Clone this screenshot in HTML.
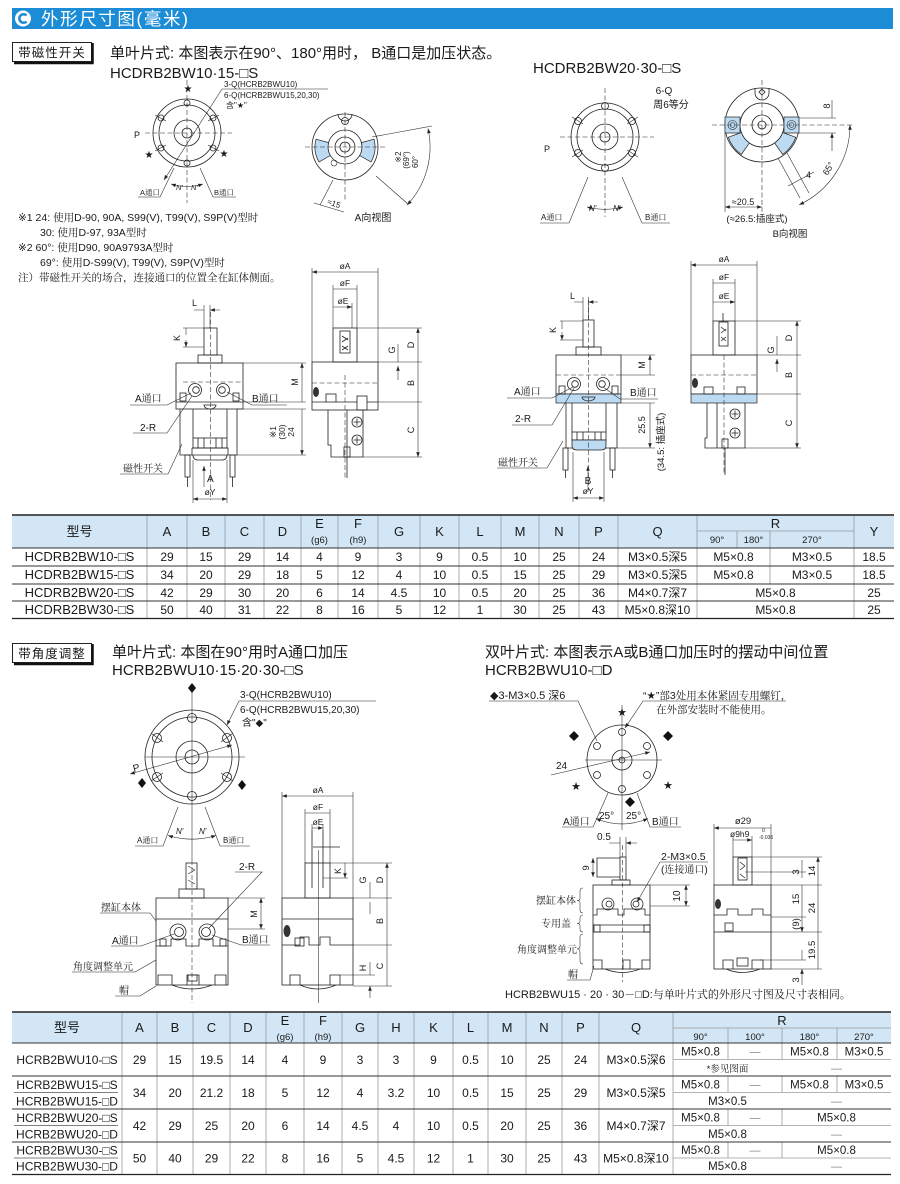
<!DOCTYPE html>
<html><head><meta charset="utf-8">
<style>
html,body{margin:0;padding:0;background:#fff}
svg{display:block}
.s{fill:none;stroke:#222;stroke-width:.8}
.t{stroke-width:.55}
.d{stroke-dasharray:5 2.5}
.g{fill:none;stroke:#9a9a9a;stroke-width:.8}
.k{fill:none;stroke:#333;stroke-width:.9}
.bl{fill:#bcdaf2;stroke:#222;stroke-width:.7}
text{font-family:"Liberation Sans","DejaVu Sans","Noto Sans CJK SC",sans-serif;fill:#1a1a1a}
.sf{font-family:"Liberation Sans","DejaVu Sans","Noto Serif CJK SC",serif}
.cj{font-family:"Liberation Sans","DejaVu Sans","Noto Sans CJK SC",sans-serif}
</style></head>
<body>
<svg width="900" height="1184" viewBox="0 0 900 1184" xmlns="http://www.w3.org/2000/svg">
<defs>
<marker id="ar" viewBox="0 0 8 6" refX="8" refY="3" markerWidth="5" markerHeight="3.6" markerUnits="userSpaceOnUse" orient="auto-start-reverse"><path d="M0 0L8 3L0 6z" fill="#222"/></marker>
</defs>

<!-- ===== Header ===== -->
<rect x="12" y="8" width="881" height="21" fill="#1d8cd6"/>
<circle cx="23" cy="18.5" r="8" fill="#fff"/>
<path d="M26.6 15.4A4.3 4.3 0 1 0 26.6 21.6" fill="none" stroke="#1d8cd6" stroke-width="2.5"/>
<text x="41" y="25" font-size="17.5" letter-spacing="1.6" style="fill:#fff">外形尺寸图(毫米)</text>

<!-- section label 1 -->
<rect x="12.5" y="42.5" width="79" height="19" fill="#fff" stroke="#222" stroke-width="1"/>
<path d="M92.5 43V63H14" stroke="#111" stroke-width="2.5" fill="none"/>
<text x="52" y="57" font-size="12.5" text-anchor="middle" letter-spacing="1">带磁性开关</text>

<text x="110" y="58" font-size="15">单叶片式: 本图表示在90°、180°用时， B通口是加压状态。</text>
<text x="110" y="78" font-size="15">HCDRB2BW10·15-□S</text>
<text x="533" y="73" font-size="15">HCDRB2BW20·30-□S</text>

<!-- ===== Drawing 1: front circle ===== -->
<g class="s">
<circle cx="187" cy="133" r="34"/><circle cx="187" cy="133" r="28"/><circle cx="187" cy="133" r="13"/><circle cx="187" cy="133" r="5"/>
<circle cx="187" cy="103" r="3"/><circle cx="187" cy="163" r="3"/><circle cx="161" cy="118" r="3"/><circle cx="213" cy="118" r="3"/><circle cx="161" cy="148" r="3"/><circle cx="213" cy="148" r="3"/>
</g>
<path class="s t" d="M166 121L155 115M208 121L219 115M166 145L155 151M208 145L219 151"/>
<path class="s t d" d="M145 133H232M187 80V203"/>
<path class="s t" d="M328 89H222L164 180" marker-end="url(#ar)"/>
<text x="224" y="87" font-size="8">3-Q(HCRB2BWU10)</text>
<text x="224" y="98" font-size="8">6-Q(HCRB2BWU15,20,30)</text>
<text x="226" y="108" font-size="8">含"★"</text>
<text x="188" y="92" font-size="10" text-anchor="middle">★</text>
<text x="149" y="158" font-size="10" text-anchor="middle">★</text>
<text x="224" y="157" font-size="10" text-anchor="middle">★</text>
<text x="134" y="138" font-size="9">P</text>
<path class="s t" d="M138 197H160L174 168M236 197H213L200 168"/>
<path class="s t" d="M171 184A54 54 0 0 0 203 184" marker-start="url(#ar)" marker-end="url(#ar)"/>
<text x="140" y="195" font-size="7.5" class="sf">A通口</text>
<text x="214" y="195" font-size="7.5" class="sf">B通口</text>
<text x="176" y="190" font-size="7.5" font-style="italic">N'</text>
<text x="191" y="190" font-size="7.5" font-style="italic">N'</text>

<!-- ===== Drawing 2: A view ===== -->
<g class="s">
<circle cx="345" cy="147" r="33"/><circle cx="345" cy="147" r="17"/><circle cx="345" cy="147" r="10"/><circle cx="345" cy="147" r="5"/>
<circle cx="345" cy="121" r="3.5"/><path d="M338 114A7 7 0 0 0 352 114"/>
</g>
<path class="bl" d="M330.3 155.5L319 162A30 30 0 0 1 316 139.2L328.6 142.6A17 17 0 0 0 330.3 155.5Z"/>
<path class="bl" d="M361.4 142.6L374 139.2A30 30 0 0 1 371 162L359.7 155.5A17 17 0 0 0 361.4 142.6Z"/>
<circle cx="334" cy="163" r="3" class="s t"/>
<path class="s t d" d="M305 147H385M345 112V200"/>
<path class="s t" d="M333 180L320 205M376 176L408 204M372 137L432 126"/>
<path class="s t" d="M314 203L344 212"/>
<text transform="translate(333,206) rotate(20)" font-size="8" text-anchor="middle">≈15</text>
<path class="s t" d="M428 128.5A85 85 0 0 1 407.2 205" marker-start="url(#ar)" marker-end="url(#ar)"/>
<text transform="translate(401,157) rotate(-90)" font-size="8" text-anchor="middle">※2</text>
<text transform="translate(409,160) rotate(-90)" font-size="8" text-anchor="middle">(69°)</text>
<text transform="translate(418,162) rotate(-90)" font-size="8" text-anchor="middle">60°</text>
<text x="373" y="221" font-size="10" text-anchor="middle">A向视图</text>

<!-- ===== Drawing 3: front circle 20/30 ===== -->
<g class="s">
<circle cx="605" cy="137" r="34"/><circle cx="605" cy="137" r="28"/><circle cx="605" cy="137" r="13"/><circle cx="605" cy="137" r="5"/>
<circle cx="605" cy="106" r="3.5"/><circle cx="605" cy="168" r="3.5"/><circle cx="578" cy="121" r="3.5"/><circle cx="632" cy="121" r="3.5"/><circle cx="578" cy="153" r="3.5"/><circle cx="632" cy="153" r="3.5"/>
</g>
<path class="s t" d="M583 124L572 117M627 124L638 117M583 150L572 157M627 150L638 157"/>
<path class="s t d" d="M560 137H654M605 88V217"/>
<text x="664" y="94" font-size="10" text-anchor="middle">6-Q</text>
<text x="671" y="108" font-size="10" text-anchor="middle">周6等分</text>
<text x="544" y="152" font-size="9">P</text>
<path class="s t" d="M540 223H569L588 177M670 223H642L622 177"/>
<path class="s t" d="M587 207A72 72 0 0 0 623 207" marker-start="url(#ar)" marker-end="url(#ar)"/>
<text x="541" y="220" font-size="8" class="sf">A通口</text>
<text x="645" y="220" font-size="8" class="sf">B通口</text>
<text x="589" y="211" font-size="8" font-style="italic">N'</text>
<text x="613" y="211" font-size="8" font-style="italic">N'</text>

<!-- ===== Drawing 4: B view ===== -->
<g class="s">
<circle cx="762" cy="125" r="37"/><circle cx="762" cy="125" r="22"/><circle cx="762" cy="125" r="10"/><circle cx="762" cy="125" r="4"/>
<path d="M755 88V93A7 7 0 0 0 769 93V88"/><path d="M762 89L765 92L762 95L759 92Z"/>
</g>
<rect x="725" y="117" width="15" height="16" class="bl"/><circle cx="732.5" cy="125" r="4.5" class="s t"/><circle cx="732.5" cy="125" r="2.3" class="s t"/>
<rect x="784" y="117" width="15" height="16" class="bl"/><circle cx="791.5" cy="125" r="4.5" class="s t"/><circle cx="791.5" cy="125" r="2.3" class="s t"/>
<path class="bl" d="M741.3 132.5L728.2 137.3A36 36 0 0 0 741.3 154.5L749.4 143A22 22 0 0 1 741.3 132.5Z"/>
<path class="bl" d="M782.7 132.5L795.8 137.3A36 36 0 0 1 782.7 154.5L774.6 143A22 22 0 0 0 782.7 132.5Z"/>
<path class="s t d" d="M712 125H852M762 80V212"/>
<path class="s t" d="M799 118H836M799 133H836M725 133V212"/>
<path class="s t" d="M832 100V118M832 151V133" marker-end="url(#ar)"/>
<text transform="translate(830,106) rotate(-90)" font-size="9" text-anchor="middle">8</text>
<path class="s t" d="M778 158L800 198M787 153L809 193M788 186L814 172"/>
<text x="806" y="178" font-size="9">4</text>
<path class="s t" d="M850 125A88 88 0 0 1 799.2 204.8" marker-start="url(#ar)" marker-end="url(#ar)"/>
<text transform="translate(831,170) rotate(-60)" font-size="9" text-anchor="middle">65°</text>
<path class="s t" d="M725 207H762" marker-start="url(#ar)" marker-end="url(#ar)"/>
<text x="743" y="205" font-size="9" text-anchor="middle">≈20.5</text>
<text x="757" y="222" font-size="9.5" text-anchor="middle">(≈26.5:插座式)</text>
<text x="790" y="237" font-size="9.5" text-anchor="middle">B向视图</text>

<!-- ===== Notes ===== -->
<g font-size="10.5" class="sf">
<text x="18" y="221" class="sf">※1  24: 使用D-90, 90A, S99(V), T99(V), S9P(V)型时</text>
<text x="40" y="236" class="sf">30: 使用D-97, 93A型时</text>
<text x="18" y="251" class="sf">※2  60°: 使用D90, 90A9793A型时</text>
<text x="40" y="266" class="sf">69°: 使用D-S99(V), T99(V), S9P(V)型时</text>
<text x="18" y="281" class="sf">注）带磁性开关的场合，连接通口的位置全在缸体侧面。</text>
</g>

<!-- ===== Drawing 5: side view left ===== -->
<g class="s">
<rect x="176" y="363" width="67" height="46"/>
<path d="M176 402H243"/>
<rect x="198" y="355" width="24" height="8"/>
<rect x="204" y="328" width="13" height="27"/>
<circle cx="195" cy="390" r="6.5"/><circle cx="196" cy="390" r="3.3"/>
<circle cx="223" cy="390" r="6.5"/><circle cx="222" cy="390" r="3.3"/>
<rect x="180" y="393" width="6" height="8"/><rect x="233" y="393" width="6" height="8"/>
<path d="M204 405H216A6 4 0 0 1 204 405Z"/>
<path d="M180 409V455H237V409M193 409V438M227 409V438"/>
<rect x="193" y="438" width="34" height="10"/>
<path d="M198 438V448M204 438V448M216 438V448M222 438V448"/>
<path d="M192 448H228V455M192 448V455M193 455Q193 460 198 460H222Q227 460 227 455"/>
<rect x="185" y="455" width="5" height="22"/><rect x="230" y="455" width="5" height="22"/>
<path d="M187.5 477V487M232.5 477V487"/>
</g>
<path class="s t d" d="M183 382H243M210.5 312V500"/>
<path class="s t" d="M183 328H204M183 347H204M204 305V328M210 305V328"/>
<path class="s t" d="M186 335V328M186 340V347" marker-end="url(#ar)"/>
<text transform="translate(180,338) rotate(-90)" font-size="9" text-anchor="middle">K</text>
<path class="s t" d="M194 310H204M220 310H210" marker-end="url(#ar)"/>
<text x="192" y="306" font-size="9">L</text>
<path class="s t" d="M204 487V466" marker-end="url(#ar)"/>
<text x="207" y="482" font-size="10">A</text>
<path class="s t" d="M193 460V503M227 460V503"/>
<path class="s t" d="M193 499H227" marker-start="url(#ar)" marker-end="url(#ar)"/>
<text x="210" y="495" font-size="8.5" text-anchor="middle">øY</text>
<path class="s t" d="M243 363H306M243 402H306M237 409H306M237 455H306"/>
<path class="s t" d="M302 363V402M302 409V455" marker-start="url(#ar)" marker-end="url(#ar)"/>
<text transform="translate(298,382) rotate(-90)" font-size="9" text-anchor="middle">M</text>
<text transform="translate(276,432) rotate(-90)" font-size="8.5" text-anchor="middle">※1</text>
<text transform="translate(285,432) rotate(-90)" font-size="8.5" text-anchor="middle">(30)</text>
<text transform="translate(294,432) rotate(-90)" font-size="8.5" text-anchor="middle">24</text>
<path class="s t" d="M130 405H167L191 393M287 405H252L227 392M133 433H167L192 396M120 474H168L182 444"/>
<text x="135" y="402" font-size="10" class="sf">A通口</text>
<text x="252" y="402" font-size="10" class="sf">B通口</text>
<text x="140" y="431" font-size="10">2-R</text>
<text x="123" y="472" font-size="10" class="sf">磁性开关</text>

<!-- ===== Drawing 6: side view right ===== -->
<g class="s">
<rect x="312" y="362" width="66" height="48"/>
<path d="M312 402H326M336 402H357M367 402H378"/>
<rect x="326" y="394" width="10" height="8"/><rect x="357" y="396" width="10" height="14"/>
<rect x="333" y="328" width="24" height="34"/>
<rect x="340" y="331" width="10" height="22"/>
<path d="M342 336L348 340M342 342L348 338M342 346L348 350M342 350L348 346"/>
<path d="M328 410V445H331V457H363V410M347 410V457"/>
<circle cx="357" cy="422" r="5"/><path d="M353.5 422H360.5M357 418.5V425.5"/>
<circle cx="357" cy="440" r="5"/><path d="M353.5 440H360.5M357 436.5V443.5"/>
<rect x="344" y="447" width="6" height="10"/>
<path d="M347 457V478"/>
</g>
<ellipse cx="316" cy="392" rx="3" ry="5" fill="#333"/>
<path class="s t d" d="M312 383H378M345 375V480"/>
<path class="s t" d="M312 268V362M378 268V362M333 285V328M357 285V328M352 303V328"/>
<path class="s t" d="M312 272H378M333 289H357M333 307H352" marker-start="url(#ar)" marker-end="url(#ar)"/>
<text x="345" y="269" font-size="8.5" text-anchor="middle">øA</text>
<text x="345" y="286" font-size="8.5" text-anchor="middle">øF</text>
<text x="343" y="304" font-size="8.5" text-anchor="middle">øE</text>
<path class="s t" d="M357 328H422M378 362H422M378 402H422M363 457H422"/>
<path class="s t" d="M418 328V362M418 362V402M418 402V457" marker-start="url(#ar)" marker-end="url(#ar)"/>
<path class="s t" d="M398 344V362M398 380V366" marker-end="url(#ar)"/>
<text transform="translate(395,350) rotate(-90)" font-size="9" text-anchor="middle">G</text>
<text transform="translate(414,345) rotate(-90)" font-size="9" text-anchor="middle">D</text>
<text transform="translate(414,383) rotate(-90)" font-size="9" text-anchor="middle">B</text>
<text transform="translate(414,430) rotate(-90)" font-size="9" text-anchor="middle">C</text>

<!-- ===== Drawing 7: side view left 20/30 ===== -->
<g class="s">
<rect x="556" y="355" width="65" height="39"/>
<rect x="556" y="394" width="65" height="9" class="bl"/>
<rect x="576" y="347" width="25" height="8"/>
<rect x="583" y="320" width="11" height="27"/>
<circle cx="574" cy="384" r="6.5"/><circle cx="575" cy="384" r="3.3"/>
<circle cx="603" cy="384" r="6.5"/><circle cx="602" cy="384" r="3.3"/>
<rect x="559" y="386" width="6" height="8"/><rect x="612" y="386" width="6" height="8"/>
<path d="M582 397H595A6.5 4 0 0 1 582 397Z"/>
<path d="M566 403V448H617V403M572 403V432M606 403V432"/>
<rect x="572" y="432" width="34" height="8"/>
<path d="M577 432V440M583 432V440M595 432V440M601 432V440"/>
<path d="M572 440H606V446Q606 450 601 450H577Q572 450 572 446Z" fill="#bcdaf2"/>
<rect x="563" y="448" width="5" height="22"/><rect x="610" y="448" width="5" height="22"/>
<path d="M565.5 470V478M612.5 470V478"/>
</g>
<path class="s t d" d="M556 375H621M588.5 300V490"/>
<path class="s t" d="M560 321H583M560 340H583M583 297V320M588.5 297V320"/>
<path class="s t" d="M562 329V321M562 332V340" marker-end="url(#ar)"/>
<text transform="translate(556,330) rotate(-90)" font-size="9" text-anchor="middle">K</text>
<path class="s t" d="M574 302H583M598 302H588.5" marker-end="url(#ar)"/>
<text x="570" y="299" font-size="9">L</text>
<path class="s t" d="M588 492V466" marker-end="url(#ar)"/>
<text x="588" y="484" font-size="10" text-anchor="middle">B</text>
<path class="s t" d="M573 452V502M604 452V502"/>
<path class="s t" d="M573 498H604" marker-start="url(#ar)" marker-end="url(#ar)"/>
<text x="588" y="494" font-size="8.5" text-anchor="middle">øY</text>
<path class="s t" d="M621 355H655M621 375H655M621 403H655M617 448H655"/>
<path class="s t" d="M650 355V375M650 403V448" marker-start="url(#ar)" marker-end="url(#ar)"/>
<text transform="translate(645,365) rotate(-90)" font-size="9" text-anchor="middle">M</text>
<text transform="translate(645,425) rotate(-90)" font-size="9" text-anchor="middle">25.5</text>
<text transform="translate(664,442) rotate(-90)" font-size="9.5" text-anchor="middle">(34.5: 插座式)</text>
<path class="s t" d="M507 398H552L573 387M658 399H620L603 387M512 425H552L574 388M497 468H547L563 441"/>
<text x="514" y="395" font-size="10" class="sf">A通口</text>
<text x="630" y="396" font-size="10" class="sf">B通口</text>
<text x="515" y="422" font-size="10">2-R</text>
<text x="498" y="466" font-size="10" class="sf">磁性开关</text>

<!-- ===== Drawing 8: side view right 20/30 ===== -->
<g class="s">
<rect x="691" y="355" width="66" height="39"/>
<rect x="691" y="394" width="66" height="9" class="bl"/>
<rect x="704" y="387" width="9" height="7"/><rect x="737" y="387" width="8" height="7"/>
<rect x="713" y="321" width="22" height="34"/>
<rect x="719" y="322" width="9" height="24"/>
<path d="M721 327L726 331M721 333L726 329M721 337L726 341M721 341L726 337M723 313V322"/>
<path d="M707 403V438H705V448H745V403M717 403V448"/>
<circle cx="735" cy="414" r="5"/><path d="M731.5 414H738.5M735 410.5V417.5"/>
<circle cx="735" cy="433" r="5"/><path d="M731.5 433H738.5M735 429.5V436.5"/>
<rect x="722" y="439" width="6" height="9"/>
<path d="M725 448V475"/>
</g>
<ellipse cx="695" cy="383" rx="3" ry="5" fill="#333"/>
<path class="s t d" d="M691 375H757M724 355V475"/>
<path class="s t" d="M691 261V355M757 261V355M713 279V321M735 279V321"/>
<path class="s t" d="M691 265H757M713 283H735M713 302H735" marker-start="url(#ar)" marker-end="url(#ar)"/>
<text x="724" y="262" font-size="8.5" text-anchor="middle">øA</text>
<text x="724" y="280" font-size="8.5" text-anchor="middle">øF</text>
<text x="724" y="299" font-size="8.5" text-anchor="middle">øE</text>
<path class="s t" d="M735 321H801M757 355H801M757 394H801M745 448H801"/>
<path class="s t" d="M797 321V355M797 355V394M797 394V448" marker-start="url(#ar)" marker-end="url(#ar)"/>
<path class="s t" d="M777 336V355M777 372V359" marker-end="url(#ar)"/>
<text transform="translate(774,350) rotate(-90)" font-size="9" text-anchor="middle">G</text>
<text transform="translate(792,338) rotate(-90)" font-size="9" text-anchor="middle">D</text>
<text transform="translate(792,375) rotate(-90)" font-size="9" text-anchor="middle">B</text>
<text transform="translate(792,423) rotate(-90)" font-size="9" text-anchor="middle">C</text>

<!-- ===== Table 1 ===== -->
<rect x="12" y="515" width="882" height="33" fill="#d2e6f6"/>
<path d="M147 515V618M187 515V618M225 515V618M264 515V618M301 515V618M338 515V618M378 515V618M420 515V618M459 515V618M501 515V618M539 515V618M579 515V618M618 515V618M697 515V618M854 515V618M737 531V548M770 531V584M697 531H854" class="g"/>
<path d="M12 515H894" stroke="#222" stroke-width="1.5"/>
<path d="M12 548H894M12 566H894M12 584H894M12 601H894" class="k"/>
<path d="M12 618.5H894" stroke="#222" stroke-width="1.3"/>
<g text-anchor="middle" font-size="13">
<text y="536"><tspan x="79.5">型号</tspan><tspan x="167">A</tspan><tspan x="206">B</tspan><tspan x="244.5">C</tspan><tspan x="282.5">D</tspan><tspan x="399">G</tspan><tspan x="439.5">K</tspan><tspan x="480">L</tspan><tspan x="520">M</tspan><tspan x="559">N</tspan><tspan x="598.5">P</tspan><tspan x="657.5">Q</tspan><tspan x="874">Y</tspan></text>
<text y="528"><tspan x="319.5">E</tspan><tspan x="358">F</tspan><tspan x="775.5">R</tspan></text>
</g>
<g text-anchor="middle" font-size="9.5">
<text y="543"><tspan x="319.5">(g6)</tspan><tspan x="358">(h9)</tspan></text>
<text y="543"><tspan x="717">90°</tspan><tspan x="753.5">180°</tspan><tspan x="812">270°</tspan></text>
</g>
<g text-anchor="middle" font-size="12">
<text y="561"><tspan x="79.5" font-size="13">HCDRB2BW10-□S</tspan><tspan x="167">29</tspan><tspan x="206">15</tspan><tspan x="244.5">29</tspan><tspan x="282.5">14</tspan><tspan x="319.5">4</tspan><tspan x="358">9</tspan><tspan x="399">3</tspan><tspan x="439.5">9</tspan><tspan x="480">0.5</tspan><tspan x="520">10</tspan><tspan x="559">25</tspan><tspan x="598.5">24</tspan><tspan x="657.5">M3×0.5深5</tspan><tspan x="733.5">M5×0.8</tspan><tspan x="812">M3×0.5</tspan><tspan x="874">18.5</tspan></text>
<text y="579"><tspan x="79.5" font-size="13">HCDRB2BW15-□S</tspan><tspan x="167">34</tspan><tspan x="206">20</tspan><tspan x="244.5">29</tspan><tspan x="282.5">18</tspan><tspan x="319.5">5</tspan><tspan x="358">12</tspan><tspan x="399">4</tspan><tspan x="439.5">10</tspan><tspan x="480">0.5</tspan><tspan x="520">15</tspan><tspan x="559">25</tspan><tspan x="598.5">29</tspan><tspan x="657.5">M3×0.5深5</tspan><tspan x="733.5">M5×0.8</tspan><tspan x="812">M3×0.5</tspan><tspan x="874">18.5</tspan></text>
<text y="597"><tspan x="79.5" font-size="13">HCDRB2BW20-□S</tspan><tspan x="167">42</tspan><tspan x="206">29</tspan><tspan x="244.5">30</tspan><tspan x="282.5">20</tspan><tspan x="319.5">6</tspan><tspan x="358">14</tspan><tspan x="399">4.5</tspan><tspan x="439.5">10</tspan><tspan x="480">0.5</tspan><tspan x="520">20</tspan><tspan x="559">25</tspan><tspan x="598.5">36</tspan><tspan x="657.5">M4×0.7深7</tspan><tspan x="775.5">M5×0.8</tspan><tspan x="874">25</tspan></text>
<text y="614"><tspan x="79.5" font-size="13">HCDRB2BW30-□S</tspan><tspan x="167">50</tspan><tspan x="206">40</tspan><tspan x="244.5">31</tspan><tspan x="282.5">22</tspan><tspan x="319.5">8</tspan><tspan x="358">16</tspan><tspan x="399">5</tspan><tspan x="439.5">12</tspan><tspan x="480">1</tspan><tspan x="520">30</tspan><tspan x="559">25</tspan><tspan x="598.5">43</tspan><tspan x="657.5">M5×0.8深10</tspan><tspan x="775.5">M5×0.8</tspan><tspan x="874">25</tspan></text>
</g>

<!-- ===== Section 2 ===== -->
<rect x="12.5" y="643.5" width="79" height="19" fill="#fff" stroke="#222" stroke-width="1"/>
<path d="M92.5 644V664H14" stroke="#111" stroke-width="2.5" fill="none"/>
<text x="52" y="658" font-size="12.5" text-anchor="middle" letter-spacing="1">带角度调整</text>
<text x="112" y="657" font-size="15">单叶片式: 本图在90°用时A通口加压</text>
<text x="112" y="675" font-size="15">HCRB2BWU10·15·20·30-□S</text>
<text x="485" y="657" font-size="15">双叶片式: 本图表示A或B通口加压时的摆动中间位置</text>
<text x="485" y="675" font-size="15">HCRB2BWU10-□D</text>

<!-- ===== Drawing 9: circle 5 ===== -->
<g class="s">
<circle cx="192" cy="757" r="47"/><circle cx="192" cy="757" r="40"/><circle cx="192" cy="757" r="16"/><circle cx="192" cy="757" r="7"/>
<circle cx="192" cy="718" r="4.5"/><circle cx="192" cy="796" r="4.5"/><circle cx="157" cy="738" r="4.5"/><circle cx="227" cy="738" r="4.5"/><circle cx="157" cy="777" r="4.5"/><circle cx="227" cy="777" r="4.5"/>
</g>
<path class="s t" d="M163 742L151 733M221 742L233 733M163 773L151 781M221 773L233 781"/>
<path class="s t" d="M145 757H245M192 685V860"/>
<path class="s t d" d="M192 860V1003"/>
<path d="M192 683L196 688L192 693L188 688Z M142 778L146 783L142 788L138 783Z M242 780L246 785L242 790L238 785Z" fill="#111"/>
<path class="s t" d="M376 701H239L227 725" marker-end="url(#ar)"/>
<text x="240" y="698" font-size="10">3-Q(HCRB2BWU10)</text>
<text x="240" y="713" font-size="10">6-Q(HCRB2BWU15,20,30)</text>
<text x="242" y="726" font-size="10">含"◆"</text>
<path class="s t" d="M130 774L232 745" marker-start="url(#ar)" marker-end="url(#ar)"/>
<text transform="translate(134,772) rotate(-16)" font-size="10">P</text>
<path class="s t" d="M135 846H163L178 807M250 846H220L205 807"/>
<path class="s t" d="M168 835.5A82 82 0 0 0 216 835.5" marker-start="url(#ar)" marker-end="url(#ar)"/>
<text x="137" y="843" font-size="8" class="sf">A通口</text>
<text x="223" y="843" font-size="8" class="sf">B通口</text>
<text x="176" y="834" font-size="8" font-style="italic">N'</text>
<text x="199" y="834" font-size="8" font-style="italic">N'</text>

<!-- ===== Drawing 10: side view 5 ===== -->
<g class="s">
<rect x="156" y="898" width="72" height="87"/>
<path d="M156 919H228"/>
<rect x="179" y="889" width="25" height="9"/>
<rect x="186" y="863" width="11" height="26"/>
<circle cx="178" cy="932" r="8"/><circle cx="179" cy="932" r="4.5"/>
<circle cx="207" cy="932" r="8"/><circle cx="206" cy="932" r="4.5"/>
<path d="M156 946H171V939H186V946H199V939H213V946H228"/>
<rect x="160" y="939" width="6" height="7"/><rect x="220" y="939" width="6" height="7"/>
<path d="M158 985V975H172V985M187 985V975H199V985M215 985V975H226V985"/>
<rect x="188" y="975" width="9" height="6"/>
<path d="M172 985Q192 993 212 985"/>
</g>
<path class="s t" d="M188 866L195 870M188 874L195 870M188 880L195 884"/>
<path class="s t" d="M228 898H265M228 929H265"/>
<path class="s t" d="M261 898V929" marker-start="url(#ar)" marker-end="url(#ar)"/>
<text transform="translate(257,914) rotate(-90)" font-size="9" text-anchor="middle">M</text>
<path class="s t" d="M100 913H150L156 921M111 946H141L174 934M235 872H262L209 928M270 945H241L212 935M72 972H135L156 960M115 996H140L156 986"/>
<text x="101" y="911" font-size="10" class="sf">摆缸本体</text>
<text x="112" y="944" font-size="10" class="sf">A通口</text>
<text x="239" y="870" font-size="10">2-R</text>
<text x="242" y="943" font-size="10" class="sf">B通口</text>
<text x="73" y="970" font-size="10" class="sf">角度调整单元</text>
<text x="119" y="994" font-size="10" class="sf">帽</text>

<!-- ===== Drawing 11: side view 6 ===== -->
<g class="s">
<rect x="282" y="898" width="71" height="87"/>
<path d="M282 919H353"/>
<path d="M282 945H300V937H309V945H320V937H330V945H353"/>
<rect x="295" y="938" width="9" height="8"/>
<path d="M290 985V975H300V985M330 985V975H340V985"/>
<path d="M300 985Q318 993 336 985"/>
<rect x="305" y="863" width="25" height="35"/>
<path d="M312 830V888M323 830V888M313 847H340"/>
</g>
<ellipse cx="287" cy="931" rx="3.5" ry="6" fill="#333"/>
<path class="s t" d="M318.5 850V1003"/>
<path class="s t" d="M282 792V898M353 792V898M305 809V863M330 809V863M312 824V830M323 824V830"/>
<path class="s t" d="M282 796H353M305 813H330M312 828H323" marker-start="url(#ar)" marker-end="url(#ar)"/>
<text x="318" y="793" font-size="8.5" text-anchor="middle">øA</text>
<text x="318" y="810" font-size="8.5" text-anchor="middle">øF</text>
<text x="318" y="825" font-size="8.5" text-anchor="middle">øE</text>
<path class="s t" d="M330 863H392M353 898H392M353 945H392M353 986H392M323 878H348M340 975H375"/>
<path class="s t" d="M387 863V898M387 898V945M387 945V986M345 863V878" marker-start="url(#ar)" marker-end="url(#ar)"/>
<text transform="translate(341,871) rotate(-90)" font-size="9" text-anchor="middle">K</text>
<path class="s t" d="M370 882V898M370 914V902M370 962V975M370 998V986" marker-end="url(#ar)"/>
<text transform="translate(366,880) rotate(-90)" font-size="9" text-anchor="middle">G</text>
<text transform="translate(366,968) rotate(-90)" font-size="9" text-anchor="middle">H</text>
<text transform="translate(383,880) rotate(-90)" font-size="9" text-anchor="middle">D</text>
<text transform="translate(383,921) rotate(-90)" font-size="9" text-anchor="middle">B</text>
<text transform="translate(383,966) rotate(-90)" font-size="9" text-anchor="middle">C</text>

<!-- ===== Drawing 12: circle 7 ===== -->
<g class="s">
<circle cx="622" cy="760" r="35"/><circle cx="622" cy="760" r="10"/><circle cx="622" cy="760" r="3"/>
<circle cx="622" cy="732" r="3.5"/><circle cx="622" cy="789" r="3.5"/><circle cx="597" cy="746" r="3.5"/><circle cx="647" cy="746" r="3.5"/><circle cx="597" cy="775" r="3.5"/><circle cx="647" cy="775" r="3.5"/>
</g>
<path class="s t" d="M585 760H662M622 705V830"/>
<path class="s t" d="M551 775L650 752" marker-end="url(#ar)"/>
<text x="556" y="769" font-size="10">24</text>
<text x="622" y="716" font-size="11" text-anchor="middle">★</text>
<text x="576" y="790" font-size="11" text-anchor="middle">★</text>
<text x="668" y="789" font-size="11" text-anchor="middle">★</text>
<path d="M574 731L579 736L574 741L569 736Z M668 731L673 736L668 741L663 736Z M630 797L635 802L630 807L625 802Z" fill="#111"/>
<path class="s t" d="M489 701H578L597 741M786 701H643L625 728" marker-end="url(#ar)"/>
<text x="490" y="699" font-size="11">◆3-M3×0.5 深6</text>
<text x="643" y="699" font-size="10.5" class="sf">“★”部3处用本体紧固专用螺钉，</text>
<text x="656" y="713" font-size="10.5" class="sf">在外部安装时不能使用。</text>
<path class="s t" d="M562 827H593L608 793M681 827H650L637 793"/>
<path class="s t" d="M596 818.5A65 65 0 0 0 648 818.5" marker-start="url(#ar)" marker-end="url(#ar)"/>
<text x="563" y="825" font-size="10" class="sf">A通口</text>
<text x="652" y="825" font-size="10" class="sf">B通口</text>
<text x="599" y="819" font-size="10">25°</text>
<text x="626" y="819" font-size="10">25°</text>

<!-- ===== Drawing 13: side view 7 ===== -->
<g class="s">
<rect x="593" y="885" width="57" height="84"/>
<rect x="612" y="880" width="18" height="5"/>
<rect x="620" y="857" width="6" height="23"/>
<path d="M620 858H597V877H620"/>
<circle cx="608" cy="904" r="6"/><circle cx="609" cy="904" r="3"/>
<circle cx="637" cy="904" r="6"/><circle cx="636" cy="904" r="3"/>
<path d="M593 915H597V909H618V915H624V909H645V915H650"/>
<path d="M593 925H650M593 932H650"/>
<rect x="594" y="925" width="6" height="7"/><rect x="644" y="925" width="6" height="7"/>
<path d="M593 960H602V969M623 969V960H630V969M642 969V960H650"/>
<path d="M605 969Q622 976 640 969"/>
</g>
<path class="s t d" d="M622.5 845V982"/>
<path class="s t" d="M620 837V857M626 837V857"/>
<path class="s t" d="M609 843H620M637 843H626" marker-end="url(#ar)"/>
<text x="597" y="840" font-size="10">0.5</text>
<path class="s t" d="M593 858V877" marker-start="url(#ar)" marker-end="url(#ar)"/>
<text transform="translate(589,868) rotate(-90)" font-size="9.5" text-anchor="middle">9</text>
<path class="s t" d="M650 885H690M650 906H690"/>
<path class="s t" d="M686 885V906" marker-start="url(#ar)" marker-end="url(#ar)"/>
<text transform="translate(680,896) rotate(-90)" font-size="10" text-anchor="middle">10</text>
<path class="s t" d="M708 862H660L637 902" marker-end="url(#ar)"/>
<text x="661" y="860" font-size="10.5">2-M3×0.5</text>
<text x="661" y="873" font-size="10" class="sf">(连接通口)</text>
<path class="s t" d="M583 888Q580 888 580 891V898Q580 900.5 577 900.5Q580 900.5 580 903V910Q580 913 583 913M583 915Q580 915 580 918V921Q580 923.5 577 923.5Q580 923.5 580 926V929Q580 932 583 932M583 934Q580 934 580 937V946Q580 949 577 949Q580 949 580 952V961Q580 964 583 964"/>
<path class="s t" d="M567 980H590L594 966"/>
<text x="536" y="904" font-size="10" class="sf">摆缸本体</text>
<text x="541" y="927" font-size="10" class="sf">专用盖</text>
<text x="517" y="953" font-size="10" class="sf">角度调整单元</text>
<text x="568" y="978" font-size="10" class="sf">帽</text>

<!-- ===== Drawing 14: side view 8 ===== -->
<g class="s">
<rect x="714" y="885" width="57" height="84"/>
<rect x="733" y="857" width="19" height="28"/>
<rect x="738" y="858" width="9" height="22"/>
<path d="M740 862L745 866M740 870L745 866M740 874L745 878"/>
<path d="M714 915H727V909H738V915H752V909H763V915H771"/>
<path d="M714 932H771"/>
<rect x="725" y="923" width="8" height="8"/>
<path d="M723 969V960H733V969M752 969V960H763V969"/>
<rect x="737" y="958" width="11" height="8"/>
<path d="M726 969Q742 976 760 969"/>
</g>
<ellipse cx="718" cy="904" rx="3" ry="5" fill="#333"/>
<path class="s t" d="M714 824V885M771 824V885M733 836V857M752 836V857"/>
<path class="s t" d="M714 828H771M733 840H752" marker-start="url(#ar)" marker-end="url(#ar)"/>
<text x="743" y="824" font-size="9.5" text-anchor="middle">ø29</text>
<text x="730" y="837" font-size="8.5">ø9h9</text>
<text x="762" y="832" font-size="5">0</text>
<text x="759" y="839" font-size="5">-0.036</text>
<path class="s t" d="M752 857H822M745 872H806M771 885H822M771 917H806M771 932H822M760 960H806M771 969H822"/>
<path class="s t" d="M818 857V885M818 885V932M818 932V969M802 885V917M802 917V932" marker-start="url(#ar)" marker-end="url(#ar)"/>
<path class="s t" d="M802 860V872M802 878V872M802 950V960M802 985V969" marker-end="url(#ar)"/>
<text transform="translate(799,872) rotate(-90)" font-size="9.5" text-anchor="middle">3</text>
<text transform="translate(815,871) rotate(-90)" font-size="9.5" text-anchor="middle">14</text>
<text transform="translate(799,899) rotate(-90)" font-size="9.5" text-anchor="middle">15</text>
<text transform="translate(815,908) rotate(-90)" font-size="9.5" text-anchor="middle">24</text>
<text transform="translate(799,924) rotate(-90)" font-size="9.5" text-anchor="middle">(9)</text>
<text transform="translate(815,950) rotate(-90)" font-size="9.5" text-anchor="middle">19.5</text>
<text transform="translate(799,980) rotate(-90)" font-size="9.5" text-anchor="middle">3</text>

<text x="505" y="998" font-size="11" class="sf">HCRB2BWU15 · 20 · 30－□D:与单叶片式的外形尺寸图及尺寸表相同。</text>

<!-- ===== Table 2 ===== -->
<rect x="12" y="1012" width="879" height="31" fill="#d2e6f6"/>
<path class="g" d="M122 1012V1174M157 1012V1174M193 1012V1174M230 1012V1174M266 1012V1174M304 1012V1174M342 1012V1174M378 1012V1174M414 1012V1174M453 1012V1174M488 1012V1174M526 1012V1174M562 1012V1174M599 1012V1174M673 1012V1174M673 1028H891M728 1028V1043M782 1028V1043M837 1028V1043M673 1059.5H891M673 1092.5H891M673 1125.5H891M673 1158H891M728 1043V1059.5M782 1043V1059.5M837 1043V1059.5M728 1076V1092.5M782 1076V1092.5M837 1076V1092.5M728 1109V1125.5M782 1109V1125.5M728 1142V1158M782 1142V1158"/>
<path d="M14 1092.5H118M14 1125.5H118M14 1158H118" stroke="#555" stroke-width=".8"/>
<path d="M12 1012H891" stroke="#222" stroke-width="1.5"/>
<path d="M12 1043H891M12 1076H891M12 1109H891M12 1142H891" class="k"/>
<path d="M12 1174.5H891" stroke="#222" stroke-width="1.3"/>
<g text-anchor="middle" font-size="13">
<text y="1032"><tspan x="67">型号</tspan><tspan x="139.5">A</tspan><tspan x="175">B</tspan><tspan x="211.5">C</tspan><tspan x="248">D</tspan><tspan x="360">G</tspan><tspan x="396">H</tspan><tspan x="433.5">K</tspan><tspan x="470.5">L</tspan><tspan x="507">M</tspan><tspan x="544">N</tspan><tspan x="580.5">P</tspan><tspan x="636">Q</tspan></text>
<text y="1025"><tspan x="285">E</tspan><tspan x="323">F</tspan><tspan x="782">R</tspan></text>
</g>
<g text-anchor="middle" font-size="9.5">
<text y="1040"><tspan x="285">(g6)</tspan><tspan x="323">(h9)</tspan><tspan x="700.5">90°</tspan><tspan x="755">100°</tspan><tspan x="809.5">180°</tspan><tspan x="864">270°</tspan></text>
</g>
<g text-anchor="middle" font-size="12">
<text y="1064"><tspan x="67">HCRB2BWU10-□S</tspan><tspan x="139.5">29</tspan><tspan x="175">15</tspan><tspan x="211.5">19.5</tspan><tspan x="248">14</tspan><tspan x="285">4</tspan><tspan x="323">9</tspan><tspan x="360">3</tspan><tspan x="396">3</tspan><tspan x="433.5">9</tspan><tspan x="470.5">0.5</tspan><tspan x="507">10</tspan><tspan x="544">25</tspan><tspan x="580.5">24</tspan><tspan x="636">M3×0.5深6</tspan></text>
<text y="1097"><tspan x="139.5">34</tspan><tspan x="175">20</tspan><tspan x="211.5">21.2</tspan><tspan x="248">18</tspan><tspan x="285">5</tspan><tspan x="323">12</tspan><tspan x="360">4</tspan><tspan x="396">3.2</tspan><tspan x="433.5">10</tspan><tspan x="470.5">0.5</tspan><tspan x="507">15</tspan><tspan x="544">25</tspan><tspan x="580.5">29</tspan><tspan x="636">M3×0.5深5</tspan></text>
<text y="1130"><tspan x="139.5">42</tspan><tspan x="175">29</tspan><tspan x="211.5">25</tspan><tspan x="248">20</tspan><tspan x="285">6</tspan><tspan x="323">14</tspan><tspan x="360">4.5</tspan><tspan x="396">4</tspan><tspan x="433.5">10</tspan><tspan x="470.5">0.5</tspan><tspan x="507">20</tspan><tspan x="544">25</tspan><tspan x="580.5">36</tspan><tspan x="636">M4×0.7深7</tspan></text>
<text y="1162.5"><tspan x="139.5">50</tspan><tspan x="175">40</tspan><tspan x="211.5">29</tspan><tspan x="248">22</tspan><tspan x="285">8</tspan><tspan x="323">16</tspan><tspan x="360">5</tspan><tspan x="396">4.5</tspan><tspan x="433.5">12</tspan><tspan x="470.5">1</tspan><tspan x="507">30</tspan><tspan x="544">25</tspan><tspan x="580.5">43</tspan><tspan x="636">M5×0.8深10</tspan></text>
<text y="1089"><tspan x="67">HCRB2BWU15-□S</tspan></text>
<text y="1105.5"><tspan x="67">HCRB2BWU15-□D</tspan></text>
<text y="1122"><tspan x="67">HCRB2BWU20-□S</tspan></text>
<text y="1138.5"><tspan x="67">HCRB2BWU20-□D</tspan></text>
<text y="1154.5"><tspan x="67">HCRB2BWU30-□S</tspan></text>
<text y="1170.5"><tspan x="67">HCRB2BWU30-□D</tspan></text>
</g>
<g text-anchor="middle" font-size="11.5">
<text y="1055.5"><tspan x="700.5">M5×0.8</tspan><tspan x="809.5">M5×0.8</tspan><tspan x="864">M3×0.5</tspan></text>
<text y="1088.5"><tspan x="700.5">M5×0.8</tspan><tspan x="809.5">M5×0.8</tspan><tspan x="864">M3×0.5</tspan></text>
<text y="1105"><tspan x="727.5">M3×0.5</tspan></text>
<text y="1121.5"><tspan x="700.5">M5×0.8</tspan><tspan x="836.5">M5×0.8</tspan></text>
<text y="1138"><tspan x="727.5">M5×0.8</tspan></text>
<text y="1154"><tspan x="700.5">M5×0.8</tspan><tspan x="836.5">M5×0.8</tspan></text>
<text y="1170"><tspan x="727.5">M5×0.8</tspan></text>
</g>
<text x="727.5" y="1072" font-size="9.5" text-anchor="middle" class="sf">*参见图面</text>
<g text-anchor="middle" font-size="11" style="fill:#888">
<text y="1055.5" style="fill:#888"><tspan x="755">—</tspan></text>
<text y="1088.5" style="fill:#888"><tspan x="755">—</tspan></text>
<text y="1121.5" style="fill:#888"><tspan x="755">—</tspan></text>
<text y="1154" style="fill:#888"><tspan x="755">—</tspan></text>
<text y="1072" style="fill:#888"><tspan x="836.5">—</tspan></text>
<text y="1105" style="fill:#888"><tspan x="836.5">—</tspan></text>
<text y="1138" style="fill:#888"><tspan x="836.5">—</tspan></text>
<text y="1170" style="fill:#888"><tspan x="836.5">—</tspan></text>
</g>
</svg>
</body></html>
